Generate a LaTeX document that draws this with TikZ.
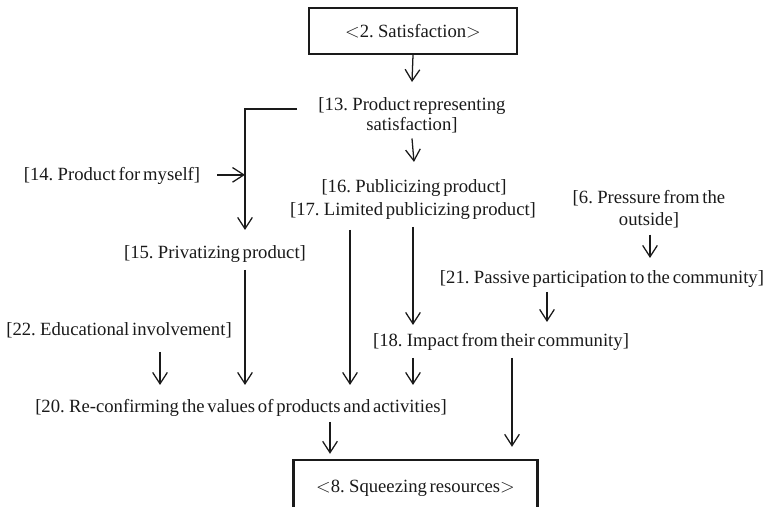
\documentclass[tikz,border=0pt]{standalone}
\usepackage{fontspec}
\setmainfont{Liberation Serif}[WordSpace=0.6]
\usetikzlibrary{arrows.meta,calc}
\definecolor{ink}{HTML}{1A1A1A}
\begin{document}
\begin{tikzpicture}[x=0.75pt,y=-0.75pt,
  every node/.style={text=ink},
  lbl/.style={inner sep=0pt, anchor=base, text height=9.6pt, text depth=3.4pt,
    font=\fontsize{14}{15}\selectfont},
  lbltwo/.style={inner sep=0pt, anchor=north, align=center,
    font=\fontsize{14}{15}\selectfont},
  endbox/.style={draw=ink, line width=1.8pt, inner sep=0pt,
    font=\fontsize{14}{15}\selectfont},
  arr/.style={draw=ink, line width=0.95pt,
    -{Straight Barb[length=8.5pt,width=11pt,line width=0.95pt]}}]
\useasboundingbox (0,0) rectangle (769,507);

% concepts
\node[endbox, minimum width=156pt, minimum height=34.5pt] (n2) at (413,31)
  {$<$2. Satisfaction$>$};
\node[lbltwo] (n13) at (412,97.5) {[13. Product representing\\satisfaction]};
\node[lbl] (n14) at (112,180) {[14. Product for myself]};
\node[lbl] (n15) at (215,258) {[15. Privatizing product]};
\node[lbl] (n16) at (414,192) {[16. Publicizing product]};
\node[lbl] (n17) at (413,215) {[17. Limited publicizing product]};
\node[lbltwo, font=\fontsize{14}{16.5}\selectfont] (n6) at (649,190.5)
  {[6. Pressure from the\\outside]};
\node[lbl] (n21) at (602,283) {[21. Passive participation to the community]};
\node[lbl] (n18) at (501,346) {[18. Impact from their community]};
\node[lbl] (n22) at (119,335) {[22. Educational involvement]};
\node[lbl] (n20) at (241,412) {[20. Re-confirming the values of products and activities]};
% the lower box runs past the bottom edge of the page
\node[endbox, minimum width=183pt, minimum height=42pt] (n8) at (415.5,488)
  {$<$8. Squeezing resources$>$};

% column that carries 13 down to 15
\coordinate (col15) at ($(n15.north)+(30,0)$);

% influences
\draw[arr] (n2.south) -- ($(n13.north)+(0,-15.5)$);
\draw[arr] ($(n13.north west)+(-21,11.5)$) -| ($(col15)+(0,-15)$);
\draw[arr] ($(n14.east)+(17,-1)$) -- ($(n14.east -| col15)+(0,-1)$);
\draw[arr] ($(n13.south)+(0,5)$) -- ($(n16.north)+(0,-17)$);
\draw[arr] ($(n15.south)+(30,7)$) -- ($(n20.north)+(4,-14)$);
\draw[arr] ($(n17.south)+(-63,10)$) -- ($(n20.north)+(109,-14)$);
\draw[arr] ($(n17.south)+(0,7)$) -- ($(n18.north)+(-88,-8)$);
\draw[arr] ($(n6.south)+(1,6)$) -- ($(n21.north)+(48,-12)$);
\draw[arr] ($(n21.south)+(-55,4)$) -- ($(n18.north)+(46,-11)$);
\draw[arr] ($(n22.south)+(41,12)$) -- ($(n20.north)+(-81,-14)$);
\draw[arr] ($(n18.south)+(-88,7)$) -- ($(n20.north)+(172,-14)$);
\draw[arr] ($(n18.south)+(11,7)$) -- ($(n8.north)+(96.5,-12)$);
\draw[arr] ($(n20.south)+(89,5)$) -- ($(n8.north)+(-85.5,-5)$);
\end{tikzpicture}
\end{document}
